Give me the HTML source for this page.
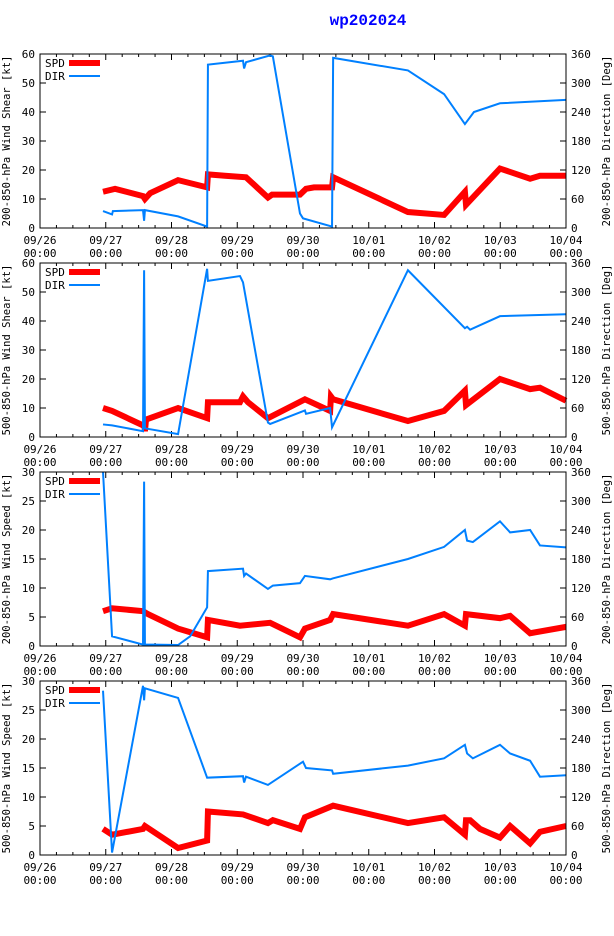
<!DOCTYPE html>
<html><head><meta charset="utf-8"><style>
html,body{margin:0;padding:0;background:#fff;}
svg{display:block;font-family:"DejaVu Sans Mono","Liberation Mono",monospace;}
</style></head><body>
<svg id="c" width="614" height="936" viewBox="0 0 614 936" xmlns="http://www.w3.org/2000/svg">
<text x="368" y="25" text-anchor="middle" font-size="16" font-weight="bold" fill="#0000ff" font-family="Liberation Mono, monospace">wp202024</text>
</svg>
<script>
// hours since 09/26 00:00
const p1SpdT=[23,27.4,37.6,38.3,40.2,50.4,61,61.3,67.5,75.2,83.2,84.7,94.9,97.1,100,106.6,107,134.3,147.5,155.1,155.5,167.9,178.9,182.5,192];
const p1SpdV=[12.5,13.5,11,10,12,16.5,14,18.5,18,17.5,10.5,11.5,11.5,13.5,14,14,17.5,5.5,4.5,12.5,8,20.5,17,18,18];
const p1DirT=[23,26.3,26.6,37.6,38,38.3,50.4,61,61.3,74.1,74.5,75.2,84,85,94.9,96,106.6,107,134.3,147.5,155.1,158.4,167.9,192];
const p1DirV=[35,28,35,37,15,37,24,3,338,346,330,343,357,355,30,20,3,352,326,277,215,240,258,265];
const p2SpdT=[23,26.3,37.6,38,38.3,38.7,50.4,61,61.3,73,74.1,75.9,83.2,96.7,105.9,106.2,107,134.3,147.5,155.1,155.5,167.9,178.9,182.5,192];
const p2SpdV=[10,9,4,5,2,6,10,6.5,12,12,14,12,6.5,13,9,14,13,5.5,9,16,11,20,16.5,17,12.5];
const p2DirT=[23,26.3,37.6,38,38.3,50.4,61,61.3,73,74.1,83.2,84,96.7,97.1,105.9,106.6,134.3,155.1,155.9,157,167.9,192];
const p2DirV=[26,24,12,345,18,6,348,323,333,320,30,27,55,48,60,20,345,225,228,222,250,254];
const p3SpdT=[23,26.3,37.6,38.3,39.4,50.4,61,61.3,73,84,94.9,96.7,105.9,107,134.3,147.5,155.1,155.5,167.9,171.6,178.9,192];
const p3SpdV=[6,6.5,6,5.8,5.5,3,1.5,4.5,3.5,4,1.5,3,4.5,5.5,3.5,5.5,3.5,5.5,4.8,5.2,2.2,3.3];
const p3DirT=[23,26.3,37.6,38,38.3,50.4,54.8,61,61.3,74.1,74.5,75.2,83.2,85,94.9,96.7,105.9,107,134.3,147.5,155.1,155.9,158,167.9,171.6,178.9,182.5,192];
const p3DirV=[360,20,3,340,3,2,20,80,155,160,145,150,118,125,130,145,138,140,180,205,240,218,215,258,235,240,208,204];
const p4SpdT=[23,26.3,37.6,38.3,50.4,61,61.3,74.1,83.2,85,94.9,96.7,107,134.3,147.5,155.1,155.5,157,160.6,167.9,171.6,178.9,182.5,192];
const p4SpdV=[4.5,3.5,4.5,5,1.2,2.5,7.5,7,5.5,6,4.5,6.5,8.5,5.5,6.5,3.5,6,6,4.5,3,5,2,4,5];
const p4DirT=[23,26.3,37.6,38,38.3,50.4,61,74.1,74.5,75.2,83.2,96,97.1,106.6,107,134.3,147.5,155.1,155.9,158,167.9,171.6,178.9,182.5,192];
const p4DirV=[340,5,350,320,345,325,160,163,150,162,145,193,180,175,168,185,200,228,210,200,228,210,195,162,165];
const xTickDays=["09/26","09/27","09/28","09/29","09/30","10/01","10/02","10/03","10/04"];
const yTicks60=[0,10,20,30,40,50,60];
const yTicks30=[0,5,10,15,20,25,30];
const dirTicks=[0,60,120,180,240,300,360];

const panels=[
 {top:54,max:60,ticks:yTicks60,lab:"200-850-hPa Wind Shear [kt]",rlab:"200-850-hPa Direction [Deg]",st:p1SpdT,sv:p1SpdV,dt:p1DirT,dv:p1DirV},
 {top:263,max:60,ticks:yTicks60,lab:"500-850-hPa Wind Shear [kt]",rlab:"500-850-hPa Direction [Deg]",st:p2SpdT,sv:p2SpdV,dt:p2DirT,dv:p2DirV},
 {top:472,max:30,ticks:yTicks30,lab:"200-850-hPa Wind Speed [kt]",rlab:"200-850-hPa Direction [Deg]",st:p3SpdT,sv:p3SpdV,dt:p3DirT,dv:p3DirV},
 {top:681,max:30,ticks:yTicks30,lab:"500-850-hPa Wind Speed [kt]",rlab:"500-850-hPa Direction [Deg]",st:p4SpdT,sv:p4SpdV,dt:p4DirT,dv:p4DirV}
];
const svg=document.getElementById('c');
const NS="http://www.w3.org/2000/svg";
const L=40,R=566,H=174;
function mk(tag,a,parent){const e=document.createElementNS(NS,tag);for(const k in a)e.setAttribute(k,a[k]);(parent||svg).appendChild(e);return e;}
function xs(h){return L+(R-L)*h/192;}
panels.forEach((p,i)=>{
 const g=mk('g',{});
 
 
 const B=p.top+H;
 const ys=v=>B-H*v/p.max, yd=v=>B-H*v/360;
 // ticks
 for(let h=0;h<=192;h+=6){
  const x=xs(h),len=(h%24==0)?6:3;
  mk('line',{x1:x,x2:x,y1:B,y2:B-len,stroke:'#000'},g);
  mk('line',{x1:x,x2:x,y1:p.top,y2:p.top+len,stroke:'#000'},g);
 }
 xTickDays.forEach((d,k)=>{
  const x=xs(k*24);
  const t=mk('text',{x:x,y:B+16,'text-anchor':'middle','font-size':11},g);t.textContent=d;
  
  
  const t2=mk('text',{x:x,y:B+29,'text-anchor':'middle','font-size':11},g);t2.textContent="00:00";
 });
 p.ticks.forEach(v=>{
  const y=ys(v);
  mk('line',{x1:L,x2:L+6,y1:y,y2:y,stroke:'#000'},g);
  const t=mk('text',{x:L-5,y:y+4,'text-anchor':'end','font-size':11},g);t.textContent=v;
  
  
 });
 dirTicks.forEach(v=>{
  const y=yd(v);
  mk('line',{x1:R-6,x2:R,y1:y,y2:y,stroke:'#000'},g);
  const t=mk('text',{x:R+5,y:y+4,'font-size':11},g);t.textContent=v;
  
  
 });
 const yl=mk('text',{transform:`translate(10,${p.top+H/2}) rotate(-90)`,'text-anchor':'middle','font-size':10.5},g);yl.textContent=p.lab;
 
 
 const yr=mk('text',{transform:`translate(610,${p.top+H/2}) rotate(-90)`,'text-anchor':'middle','font-size':10.5},g);yr.textContent=p.rlab;
 
 
 // series
 const sp=mk('polyline',{points:p.st.map((h,k)=>xs(h)+','+ys(p.sv[k])).join(' '),fill:'none',stroke:'#ff0000','stroke-width':6,'stroke-linejoin':'miter'},g);
 
 
 const dr=mk('polyline',{points:p.dt.map((h,k)=>xs(h)+','+yd(p.dv[k])).join(' '),fill:'none',stroke:'#0080ff','stroke-width':2},g);
 
 
 // frame
 mk('rect',{x:L,y:p.top,width:R-L,height:H,fill:'none',stroke:'#000'},g);
 // legend
 const lg=mk('g',{},g);
 
 
 const a=mk('text',{x:45,y:p.top+13,'font-size':11},lg);a.textContent='SPD';
 mk('line',{x1:69,x2:100,y1:p.top+9,y2:p.top+9,stroke:'#ff0000','stroke-width':6},lg);
 const b=mk('text',{x:45,y:p.top+26,'font-size':11},lg);b.textContent='DIR';
 mk('line',{x1:69,x2:100,y1:p.top+22,y2:p.top+22,stroke:'#0080ff','stroke-width':2},lg);
});
</script>
</body></html>
